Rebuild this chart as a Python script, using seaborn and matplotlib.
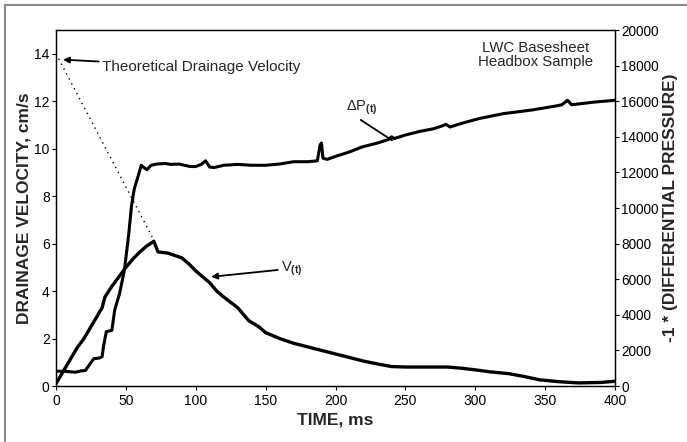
import numpy as np
import pandas as pd
import seaborn as sns
import matplotlib
matplotlib.use("Agg")
import matplotlib.pyplot as plt
from matplotlib.patches import Rectangle

# Drainage velocity V(t), cm/s
time_v = [0, 5, 10, 15, 20, 25, 30, 33, 35, 40, 45, 50, 55, 60, 65, 70, 71, 73,
          80, 85, 90, 95, 100, 105, 110, 115, 120, 130, 138, 145, 150, 160, 170,
          180, 190, 200, 210, 220, 230, 240, 250, 260, 270, 280, 290, 300, 310,
          324, 335, 346, 360, 374, 390, 400]
velocity = [0.1, 0.6, 1.1, 1.6, 2.0, 2.5, 3.0, 3.3, 3.75, 4.2, 4.6, 5.0, 5.35,
            5.65, 5.9, 6.1, 5.95, 5.65, 5.6, 5.5, 5.4, 5.15, 4.85, 4.6, 4.35,
            4.0, 3.75, 3.3, 2.75, 2.5, 2.25, 2.0, 1.8, 1.65, 1.5, 1.35, 1.2,
            1.05, 0.93, 0.82, 0.8, 0.8, 0.8, 0.8, 0.75, 0.68, 0.6, 0.52, 0.4,
            0.26, 0.18, 0.13, 0.15, 0.2]

# Differential pressure (x -1)
time_p = [0, 5, 10, 14, 18, 21, 24, 27, 31, 33, 34, 36, 40, 42, 45.5, 49, 52,
          54, 56, 58.8, 61, 63, 65, 68, 72, 78, 82, 88, 92, 96, 100, 104, 107,
          110, 113, 120, 130, 140, 150, 160, 170, 180, 187, 189, 190, 191, 194,
          200, 210, 219, 230, 238, 240, 242, 250, 260, 270, 276, 279, 282, 290,
          303, 320, 340, 357, 362, 366, 369, 385, 400]
pressure = [830, 830, 800, 775, 850, 870, 1200, 1530, 1570, 1650, 2230, 3050,
            3130, 4270, 5200, 6530, 8500, 10100, 11070, 11800, 12400, 12270,
            12150, 12400, 12470, 12500, 12450, 12470, 12400, 12330, 12330,
            12450, 12650, 12300, 12270, 12400, 12450, 12400, 12400, 12470,
            12600, 12600, 12650, 13550, 13650, 12800, 12730, 12900, 13150,
            13430, 13650, 13850, 14000, 13900, 14100, 14300, 14450, 14600,
            14700, 14550, 14750, 15030, 15300, 15500, 15720, 15800, 16050,
            15800, 15950, 16050]

# Theoretical drainage velocity (dotted)
time_theory = [0, 70]
velocity_theory = [14.0, 6.15]

df_v = pd.DataFrame({'TIME, ms': time_v, 'V': velocity})
df_p = pd.DataFrame({'TIME, ms': time_p, 'P': pressure})
df_t = pd.DataFrame({'TIME, ms': time_theory, 'V': velocity_theory})

sns.set_style("white")
plt.rcParams['font.family'] = ['Liberation Sans', 'DejaVu Sans']
plt.rcParams['mathtext.fontset'] = 'custom'
plt.rcParams['mathtext.rm'] = 'Liberation Sans'
plt.rcParams['mathtext.bf'] = 'Liberation Sans:bold'

fig = plt.figure(figsize=(6.87, 4.42), dpi=100)
ax = fig.add_axes([56 / 687, 1 - 386 / 442, 559 / 687, 356 / 442])
ax2 = ax.twinx()

sns.lineplot(data=df_v, x='TIME, ms', y='V', ax=ax, color='black', lw=2.4)
sns.lineplot(data=df_t, x='TIME, ms', y='V', ax=ax, color='black', lw=1.0,
             dashes=False, linestyle=(0, (1, 3)))
sns.lineplot(data=df_p, x='TIME, ms', y='P', ax=ax2, color='black', lw=2.2)

ax.set_xlim(0, 400)
ax.set_ylim(0, 15)
ax.set_yticks(np.arange(0, 15, 2))
ax.set_xticks(np.arange(0, 401, 50))
ax2.set_ylim(0, 20000)
ax2.set_yticks(np.arange(0, 20001, 2000))

for a in (ax, ax2):
    for s in a.spines.values():
        s.set_color('black')
        s.set_linewidth(0.9)
    a.tick_params(direction='out', length=3, width=0.8, labelsize=10,
                  colors='black', pad=1.5)
ax.tick_params(axis='both', which='both', left=True, bottom=True)
ax.tick_params(axis='x', pad=3)
ax2.tick_params(axis='y', right=True, labelsize=9.8)

ax.set_xlabel('TIME, ms', fontsize=12.5, fontweight='bold', va='center')
ax.xaxis.set_label_coords(0.5, -0.0955)
ax.set_ylabel('DRAINAGE VELOCITY, cm/s', fontsize=12.5, fontweight='bold',
              va='center', ha='center')
ax.yaxis.set_label_coords(-0.058, 0.5)
ax2.set_ylabel('-1 * (DIFFERENTIAL PRESSURE)', fontsize=12.5, fontweight='bold',
               va='center', ha='center', rotation=90)
ax2.yaxis.set_label_coords(1.1, 0.5)

arrow = dict(arrowstyle='-|>', color='black', lw=1.3, mutation_scale=9,
             shrinkA=0, shrinkB=0)
ax.annotate('Theoretical Drainage Velocity', xy=(5, 13.75), xytext=(33, 13.45),
            fontsize=11, va='center', ha='left', arrowprops=arrow)
ax.annotate('V$_{\\mathbf{(t)}}$', xy=(111, 4.6), xytext=(161, 4.95),
            fontsize=10.5, va='center', ha='left', arrowprops=arrow)
ax2.text(219, 15650, '$\\Delta$P$_{\\mathbf{(t)}}$', fontsize=10.5,
         ha='center', va='center')
ax2.annotate('', xy=(240.5, 13800), xytext=(218, 14950),
             arrowprops=dict(arrowstyle='-', color='black', lw=1.3,
                             shrinkA=0, shrinkB=0))
ax2.text(343, 18600, 'LWC Basesheet\nHeadbox Sample', fontsize=10.8,
         ha='center', va='center', linespacing=1.0)

fig.add_artist(Rectangle((5 / 687, -0.1), 1.2, 1 - 5 / 442 + 0.1,
                         transform=fig.transFigure, fill=False,
                         edgecolor='#8a8a8a', lw=1.5))

fig.savefig('out.png', dpi=100)
